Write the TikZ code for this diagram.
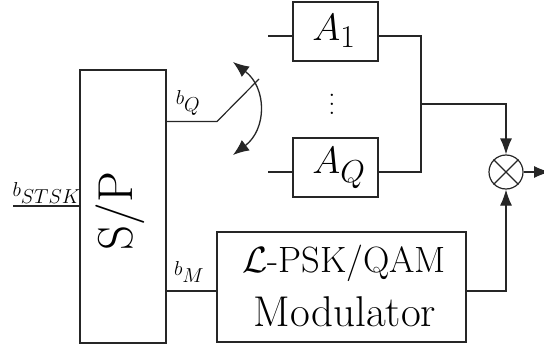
\documentclass[tikz,border=0pt]{standalone}
\usepackage{amsmath}
\usepackage{amssymb}
\usepackage{tikz}
\usetikzlibrary{arrows.meta,positioning}
\tikzset{
    block-box/.style = {draw=black!85, fill=white, line width=1.2pt, rectangle, minimum width=85pt, minimum height=59pt, inner sep=0pt},
    wire/.style = {draw=black!85, line width=1.2pt},
    head/.style = {-{Latex[length=16pt,width=12pt]}},
    bit-label/.style = {inner sep=0pt},
}
\newcommand{\bitsub}[1]{\scalebox{0.81}{\fontsize{24.88}{28}\selectfont$b_{\textstyle #1}$}}
\newcommand{\thintext}[2]{\scalebox{#1}{\fontsize{24.88}{28}\selectfont #2}}

\begin{document}
\begin{tikzpicture}[x=1pt,y=-1pt]
\useasboundingbox (0,0) rectangle (544,348);
\node [block-box, minimum width=86pt, minimum height=273pt] (sp) at (123,206.5) {};
\node [rotate=90] (sptext) at (120,211) {\thintext{1.97}{S/P}};
\node [block-box] (a1) at (335.5,31.5) {};
\node [block-box] (aq) at (335.5,167.5) {};
\node (a1text) at (334,31) {\thintext{1.53}{$A_1$}};
\node (aqtext) at (339,168) {\thintext{1.53}{$A_Q$}};
\node (dots) at (332,98) {\scalebox{2.2}{$\vdots$}};
\node [block-box, minimum width=249pt, minimum height=110pt] (mod) at (341.5,287) {};
\node (modtop) at (344,263) {\thintext{1.47}{$\mathcal{L}$-PSK/QAM}};
\node (modbot) at (345,312) {\thintext{1.73}{Modulator}};
\node [circle, draw=black!85, line width=1.2pt, minimum size=34pt, inner sep=0pt] (mix) at (506,172) {};
\draw [wire] (mix.north west) -- (mix.south east);
\draw [wire] (mix.north east) -- (mix.south west);
% input and outputs of the serial to parallel block
\coordinate (in) at (13,206);
\draw [wire] (in) -- (sp.west |- in);
\node [bit-label] (bstsk) at (46.5,193) {\bitsub{STSK}};
\coordinate (pole) at (217,121.5);
\coordinate (blade) at (259,79);
\draw [wire] (sp.east |- pole) -- (pole) -- (blade);
\node [bit-label] (bq) at (188,103) {\bitsub{Q}};
\coordinate (modin) at (217,291);
\draw [wire] (sp.east |- modin) -- (modin);
\node [bit-label] (bm) at (189,272) {\bitsub{M}};
% switch
\coordinate (swtop) at (233,62);
\coordinate (swbot) at (233,155);
\draw [wire, line width=1.3pt, {Latex[length=16pt,width=13pt]}-{Latex[length=16pt,width=13pt]}] (swtop) .. controls (267,88) and (267,129) .. (swbot);
% antenna stubs
\coordinate (a1in) at (268,36);
\coordinate (aqin) at (268,172);
\draw [wire] (a1in) -- (a1.west |- a1in);
\draw [wire] (aqin) -- (aq.west |- aqin);
% combining
\coordinate (join) at (421,104);
\draw [wire] (a1.east |- a1in) -| (join) |- (aq.east |- aqin);
\draw [wire, head] (join) -| (mix.north);
\coordinate (modout) at (466,291);
\draw [wire, head] (modout) -| (mix.south);
\coordinate (out) at (550,172);
\draw [wire, head] (mix.east) -- (out);
\end{tikzpicture}
\end{document}
